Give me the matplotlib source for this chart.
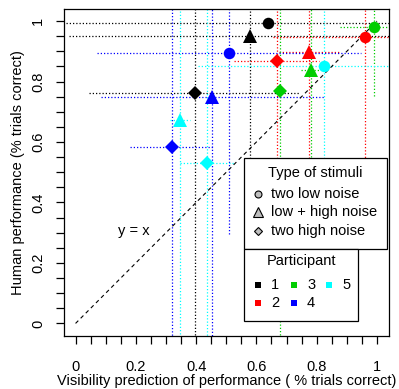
import numpy as np
import matplotlib.pyplot as plt
from matplotlib.patches import Rectangle

plt.rcParams['font.family'] = ['Liberation Sans', 'DejaVu Sans']
plt.rcParams['font.size'] = 10.5

participants = ['1', '2', '3', '4', '5']
colors = ['#000000', '#FF0000', '#00CD00', '#0000FF', '#00FFFF']
stimuli = ['two low noise', 'low + high noise', 'two high noise']
markers = ['o', '^', 'D']
msizes = [8.3, 9.5, 6.8]
legend_msizes = [5.0, 6.5, 4.4]

# rows = participant, columns = stimulus type
vis_pred = np.array([
    [0.639, 0.578, 0.396],
    [0.960, 0.775, 0.667],
    [0.990, 0.780, 0.678],
    [0.509, 0.454, 0.319],
    [0.825, 0.346, 0.436],
])
human_perf = np.array([
    [0.993, 0.951, 0.762],
    [0.948, 0.899, 0.867],
    [0.981, 0.837, 0.769],
    [0.893, 0.750, 0.584],
    [0.851, 0.673, 0.530],
])
vis_err = np.array([
    [0.67, 0.60, 0.35],
    [0.305, 0.10, 0.14],
    [0.113, 0.032, 0.01],
    [0.437, 0.37, 0.14],
    [0.42, 0.033, 0.09],
])
human_err = np.array([
    [0.01, 0.60, 0.80],
    [0.55, 0.60, 0.60],
    [0.23, 0.50, 0.85],
    [0.597, 0.80, 0.70],
    [0.50, 0.75, 0.60],
])

fig = plt.figure(figsize=(3.99, 3.89), dpi=100)
ax = fig.add_axes([63.5 / 399, 53.5 / 389, 325.5 / 399, 326.5 / 389])
ax.set_xlim(-0.04, 1.04)
ax.set_ylim(-0.04, 1.04)

dot = (0, (1, 1.6))
ax.plot([0, 1], [0, 1], color='black', lw=0.8, ls=(0, (3.5, 3)), zorder=2)

for i, c in enumerate(colors):
    x, y = vis_pred[i], human_perf[i]
    ax.hlines(y, x - vis_err[i], x + vis_err[i], colors=c, lw=0.9, linestyles=dot, zorder=1)
    ax.vlines(x, y - human_err[i], y + human_err[i], colors=c, lw=0.9, linestyles=dot, zorder=1)

for i, c in enumerate(colors):
    for j, m in enumerate(markers):
        ax.plot(vis_pred[i, j], human_perf[i, j], marker=m, ms=msizes[j], color=c,
                mec=c, mew=0, ls='none', zorder=3)

ax.text(0.192, 0.307, 'y = x', ha='center', va='center')

# legend: type of stimuli
ax.add_patch(Rectangle((0.559, 0.2465), 0.475, 0.3005, fc='white', ec='black', lw=0.9, zorder=5, clip_on=False))
ax.text(0.7965, 0.499, 'Type of stimuli', ha='center', va='center', zorder=6)
for j, (m, lab) in enumerate(zip(markers, stimuli)):
    yy = 0.428 - j * 0.0605
    ax.plot(0.6057, yy, marker=m, ms=legend_msizes[j], mfc='#BEBEBE', mec='black', mew=0.8, ls='none', zorder=6)
    ax.text(0.650, yy, lab, ha='left', va='center', zorder=6)

# legend: participant
ax.add_patch(Rectangle((0.559, 0.0076), 0.379, 0.2389, fc='white', ec='black', lw=0.9, zorder=5, clip_on=False))
ax.text(0.7485, 0.2056, 'Participant', ha='center', va='center', zorder=6)
col_x = [0.6057, 0.7243, 0.8405]
row_y = [0.1277, 0.067]
for i, (c, lab) in enumerate(zip(colors, participants)):
    cx, ry = col_x[i // 2], row_y[i % 2]
    ax.plot(cx, ry, marker='s', ms=4.3, color=c, mew=0, ls='none', zorder=6)
    ax.text(cx + 0.044, ry, lab, ha='left', va='center', zorder=6)

major = np.arange(0, 1.01, 0.2)
minor = np.arange(0, 1.01, 0.05)
ax.set_xticks(major)
ax.set_yticks(major)
ax.set_xticks(minor, minor=True)
ax.set_yticks(minor, minor=True)
labels = ['0', '0.2', '0.4', '0.6', '0.8', '1']
ax.set_xticklabels(labels)
ax.set_yticklabels(labels, rotation=90, va='center')
ax.tick_params(which='both', direction='out', length=5.8, width=0.9, color='black')
ax.tick_params(axis='x', pad=12, labelsize=10.5)
ax.tick_params(axis='y', pad=7.5, labelsize=10.5)
for s in ax.spines.values():
    s.set_linewidth(0.9)

ax.set_xlabel('Visibility prediction of performance ( % trials correct)', labelpad=0)
ax.set_ylabel('Human performance (% trials correct)', labelpad=4)

fig.savefig('out.png', dpi=100)
